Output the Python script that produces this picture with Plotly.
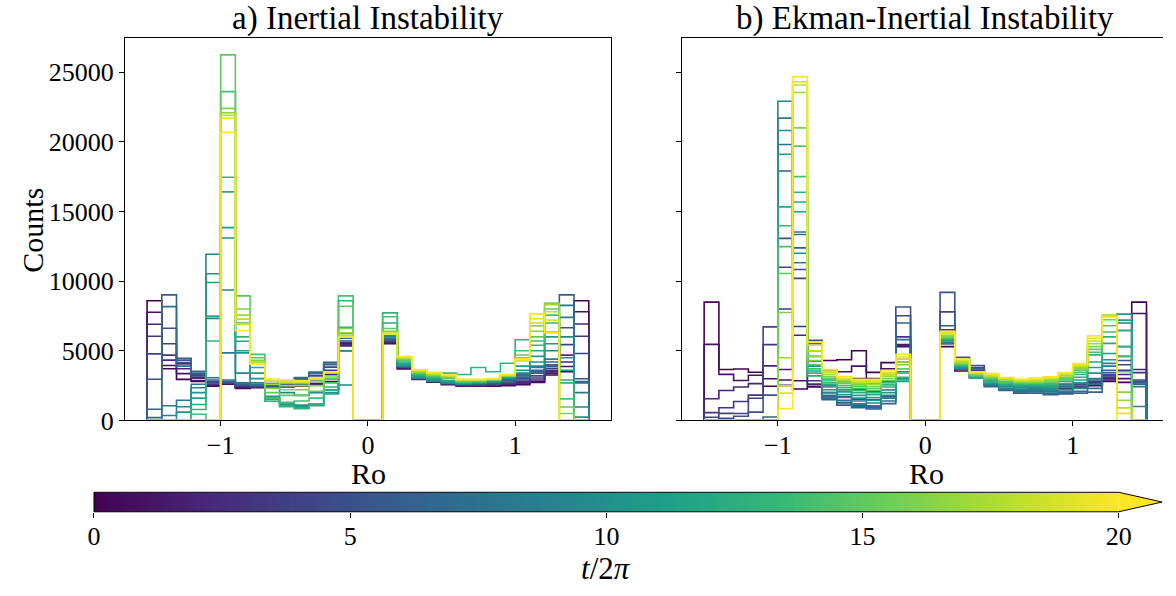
import numpy as np
import plotly.graph_objects as go
from plotly.colors import sample_colorscale

# ---------------- data ----------------
ro_edges = np.round(np.linspace(-1.5, 1.5, 31), 2)          # 30 bins of width 0.1
snapshot_times = list(range(0, 21))                          # t/2pi of each snapshot

# Panel a) Inertial Instability : counts[t][bin]
counts_inertial = [
 [8590,3710,2950,2800,2450,2600,2300,2350,2400,2400,2450,2550,2800,5500,0,0,5500,3700,2950,2750,2570,2450,2450,2450,2500,2570,2730,3260,3500,8590],
 [7770,3940,3360,2850,2500,2620,2350,2380,2420,2450,2500,2650,3000,5400,0,0,5550,3750,3000,2780,2600,2480,2480,2500,2550,2620,2800,3400,3870,7800],
 [6910,4330,3710,3010,2550,2650,2400,2400,2450,2500,2600,2800,3300,5350,0,0,5600,3780,3050,2800,2620,2500,2500,2520,2600,2700,2900,3500,4200,6920],
 [6040,4690,4060,3100,2600,2680,2450,2420,2480,2550,2700,3000,3600,5450,0,0,5650,3800,3050,2820,2650,2520,2520,2550,2650,2800,3050,3600,4690,6040],
 [4780,5500,4150,3200,2700,2700,2500,2450,2500,2600,2800,3200,3830,5600,0,0,5700,3850,3100,2850,2680,2550,2550,2600,2700,2900,3200,3740,5440,4810],
 [2960,6620,4330,3300,2800,2750,2550,2480,2550,2650,2900,3350,4000,5700,0,0,5750,3900,3100,2880,2700,2570,2580,2650,2750,3000,3400,3900,6650,2990],
 [800,9010,4460,3400,2900,2800,2600,2500,2600,2750,3000,3470,4170,5900,0,0,5800,3950,3150,2900,2720,2600,2620,2700,2850,3100,3500,4000,9010,2800],
 [200,8170,3900,3520,3060,2900,2650,2550,2650,2820,3080,3400,4050,6000,0,0,5850,3900,3100,2850,2700,2620,2650,2750,2950,3200,3600,4190,8260,2700],
 [0,1050,1450,2600,7330,4850,2700,2600,2500,2400,2600,2900,3500,5000,0,0,5900,3850,3000,2800,2650,2600,2650,2750,3000,3300,3800,4400,7400,2000],
 [0,350,980,2350,11930,9360,3400,2700,2310,2000,1800,2000,2180,2540,0,0,6000,3900,3050,2850,2700,2620,2680,2780,3020,3400,3900,5000,6000,970],
 [0,0,600,2000,10530,13100,4850,3000,1730,1260,1100,1200,2000,4990,0,0,6100,3950,3100,2900,2750,2650,2700,2800,3050,3600,4200,5510,4500,240],
 [0,0,0,1600,9900,13840,5000,3400,1600,1150,980,1100,1900,6250,0,0,6300,4000,3150,2950,2800,2680,2720,2830,3080,3900,4600,6000,3600,0],
 [0,0,0,1140,7490,16410,5690,3800,1500,1050,900,1050,2180,6680,0,0,7000,4100,3200,3000,2850,2700,2750,2860,3100,4300,5000,6320,2900,0],
 [0,0,0,790,5700,17460,6000,4300,1380,980,840,1200,2400,8590,0,0,7720,4200,3300,3100,3400,3300,3800,3500,4110,5790,5400,7000,2700,0],
 [0,0,0,440,0,23600,7000,4740,1600,1300,1400,1600,2700,8940,0,0,7440,4300,3350,3150,3000,2750,2800,2900,3150,5000,5700,7560,1550,0],
 [0,0,0,0,0,26240,8940,4500,2000,1800,1800,2100,3000,8200,0,0,6600,4350,3400,3200,3050,2800,2830,2920,3180,4700,6000,8000,970,0],
 [0,0,0,0,0,22400,8000,4300,2310,2200,2200,2500,3200,6600,0,0,6400,4400,3450,3250,3100,2850,2860,2940,3200,4500,6400,8420,500,0],
 [0,0,0,0,0,22080,7560,4200,2600,2500,2500,2800,3400,6300,0,0,6300,4450,3500,3300,3150,2880,2890,2960,3230,4400,6790,8300,0,0],
 [0,0,0,0,0,21900,7270,4100,2800,2700,2700,2950,3470,6100,0,0,6250,4500,3550,3350,3200,2900,2920,2980,3260,4300,7000,7800,0,0],
 [0,0,0,0,0,21690,6910,4050,2900,2800,2800,3000,3500,6000,0,0,6200,4550,3600,3400,3250,2930,2940,2990,3280,4300,7300,7200,0,0],
 [0,0,0,0,0,20680,6440,4040,2980,2900,2850,3050,3470,5970,0,0,6250,4580,3640,3450,3300,2960,2960,3000,3300,4400,7650,6300,0,0],
]

# Panel b) Ekman-Inertial Instability : counts[t][bin]
counts_ekman = [
 [8490,3660,3690,3460,2450,2520,2260,2400,4300,4360,5000,3450,4150,5440,0,0,5300,3550,3100,2700,2500,2400,2350,2350,2300,2400,2500,2800,2730,8490],
 [5460,3310,2870,3240,2990,2900,2850,2450,3600,3500,3900,3000,3700,5300,0,0,5500,3700,3200,2750,2500,2400,2350,2350,2350,2450,2550,2900,3000,7680],
 [1560,2150,2400,2640,3920,3660,6110,2610,3000,2800,3000,2600,3300,5410,0,0,6000,3900,3400,2800,2550,2450,2400,2400,2400,2500,2600,3000,3300,3660],
 [560,910,1360,1820,5440,8000,6740,2850,2500,2200,2200,2100,2800,6000,0,0,6500,4100,3600,2850,2600,2450,2400,2450,2450,2550,2700,3100,3600,3430],
 [230,510,500,1590,6720,11000,10200,4000,2000,1700,1500,1500,2200,7510,0,0,7790,4300,3800,2900,2600,2500,2450,2450,2500,2600,2800,3200,4000,2900],
 [0,160,300,600,1820,13070,10830,5760,1700,1300,1100,1000,1700,8140,0,0,9190,4530,3940,3000,2650,2500,2450,2500,2550,2700,2900,3300,4300,2800],
 [0,0,0,0,250,17900,12390,5500,1490,1100,910,820,1210,7000,0,0,6800,4200,3700,2430,2150,1960,1950,1840,1910,1960,2030,3430,4600,2700],
 [0,0,0,0,0,19810,13350,5000,1600,1250,1000,900,1400,5800,0,0,6000,3900,3400,2500,2200,2050,2050,1950,2000,2100,2300,3600,5300,2610],
 [0,0,0,0,0,21700,13530,4600,1800,1450,1200,1050,1600,4200,0,0,5530,3700,3200,2550,2250,2150,2150,2050,2100,2300,2600,3900,6460,2430],
 [0,0,0,0,0,22910,11320,4250,2000,1650,1400,1250,1800,3500,0,0,5600,3750,3100,2600,2300,2250,2250,2150,2200,2500,3000,4100,7000,1000],
 [0,0,0,0,0,20810,12000,3900,2200,1850,1600,1450,2000,3000,0,0,5700,3800,3050,2650,2400,2350,2350,2250,2350,2700,3400,4360,7630,0],
 [0,0,0,0,0,19110,14980,3550,2400,2050,1800,1650,2200,2800,0,0,5750,3850,3050,2700,2500,2450,2450,2350,2500,2900,3800,4800,7200,0],
 [0,0,0,0,0,15330,15680,3200,2550,2200,2000,1850,2400,2900,0,0,5800,3900,3100,2750,2600,2500,2500,2450,2650,3100,4200,5530,6460,0],
 [0,0,0,0,0,13980,16380,3400,2700,2350,2150,2000,2550,3100,0,0,5850,3950,3150,2800,2650,2600,2600,2550,2800,3300,4710,6000,5300,0],
 [0,0,0,0,0,12480,17500,3700,2850,2500,2300,2150,2700,3400,0,0,5900,4000,3200,2900,2700,2650,2650,2650,2900,3450,4900,6350,4600,0],
 [0,0,0,0,0,10550,19690,4000,3000,2650,2450,2300,2850,3700,0,0,5950,4050,3250,3000,2800,2700,2700,2750,3000,3600,5100,6800,3500,0],
 [0,0,0,0,0,7750,21000,4300,3150,2750,2550,2450,3000,4000,0,0,6000,4100,3300,3100,2900,2750,2750,2850,3100,3700,5300,7230,2030,0],
 [0,0,0,0,0,4500,23540,4600,3300,2850,2650,2600,3150,4200,0,0,6100,4150,3350,3150,2950,2800,2800,2950,3200,3800,5500,7560,1450,0],
 [0,0,0,0,0,2500,24080,5000,3450,2950,2750,2750,3300,4400,0,0,6200,4200,3400,3200,3000,2850,2850,3000,3300,3900,5700,7500,900,0],
 [0,0,0,0,0,1960,24300,5400,3550,3050,2850,2850,3450,4550,0,0,6300,4300,3450,3300,3050,2900,2950,3080,3380,4000,5900,7450,510,0],
 [0,0,0,0,0,850,24660,5640,3660,3150,2960,2960,3600,4740,0,0,6390,4400,3500,3360,3080,2960,3050,3130,3430,4080,6070,7400,0,0],
]

x_ticks = [-1, 0, 1]
y_ticks = [0, 5000, 10000, 15000, 20000, 25000]
cbar_ticks = [0, 5, 10, 15, 20]
t_max = 20

titles = ["a) Inertial Instability", "b) Ekman-Inertial Instability"]

# ---------------- figure ----------------
W, H = 1176, 596
FONT = "Liberation Serif"

def px_x(p):
    return p / W

def px_y(p):
    return (H - p) / H

fig = go.Figure()

def add_steps(counts, xa, ya):
    for t, row in zip(snapshot_times, counts):
        color = sample_colorscale("Viridis", [t / t_max])[0]
        xs = [ro_edges[0]] + list(ro_edges[:-1]) + [ro_edges[-1]]
        ys = [0] + list(row) + [0]
        fig.add_trace(go.Scatter(x=xs, y=ys, mode="lines", line_shape="hv",
                                 line=dict(color=color, width=1.6),
                                 xaxis=xa, yaxis=ya, showlegend=False,
                                 hoverinfo="skip"))

add_steps(counts_inertial, "x", "y")
add_steps(counts_ekman, "x2", "y2")

# colour bar as a heatmap strip
cb_x = np.linspace(0, t_max, 401)
cb_mid = 0.5 * (cb_x[:-1] + cb_x[1:])
fig.add_trace(go.Heatmap(x=cb_x, y=[0, 1], z=[cb_mid], colorscale="Viridis",
                         zmin=0, zmax=t_max, showscale=False,
                         xaxis="x3", yaxis="y3", hoverinfo="skip"))

tickfont = dict(family=FONT, size=26, color="black")
ax_common = dict(showline=True, linecolor="black", linewidth=1, ticks="outside",
                 ticklen=5, tickwidth=1, tickcolor="black", showgrid=False,
                 zeroline=False, tickfont=tickfont)

y0, y1 = px_y(431.3), px_y(39.3)
fig.update_layout(
    width=W, height=H, margin=dict(l=0, r=0, t=0, b=0),
    paper_bgcolor="white", plot_bgcolor="white",
    xaxis=dict(domain=[px_x(120), px_x(614.3)], range=[-1.65, 1.65],
               tickvals=x_ticks, mirror=True, anchor="y", ticklabelstandoff=-4,
               **ax_common),
    yaxis=dict(domain=[y0, y1], range=[0, 27430], tickvals=y_ticks,
               tickformat="d", mirror=True, anchor="x", **ax_common),
    xaxis2=dict(domain=[px_x(686.7), 1.0], range=[-1.65, 1.612],
                tickvals=x_ticks, mirror=True, anchor="y2", ticklabelstandoff=-4,
                **ax_common),
    yaxis2=dict(domain=[y0, y1], range=[0, 27430], tickvals=y_ticks,
                showticklabels=False, mirror=False, anchor="x2", **ax_common),
    xaxis3=dict(domain=[px_x(88.5), px_x(1131)], range=[0, t_max],
                tickvals=cbar_ticks, anchor="y3", showline=False, ticks="outside",
                ticklen=5, tickwidth=1, tickcolor="black", showgrid=False,
                zeroline=False, tickfont=tickfont, ticklabelstandoff=-4),
    yaxis3=dict(domain=[px_y(525), px_y(505)], range=[0, 1], visible=False,
                anchor="x3"),
)

# colorbar extension triangle and outline
xl, xr, xt = px_x(88.5), px_x(1131), px_x(1175)
yt, ym, yb = px_y(505), px_y(515), px_y(525)
fig.add_shape(type="path", xref="paper", yref="paper",
              path=f"M {xr} {yt} L {xt} {ym} L {xr} {yb} Z",
              fillcolor="#fde725", line=dict(color="black", width=0))
fig.add_shape(type="path", xref="paper", yref="paper",
              path=f"M {xl} {yt} L {xr} {yt} L {xt} {ym} L {xr} {yb} L {xl} {yb} Z",
              line=dict(color="black", width=1))

title_font = dict(family=FONT, size=33, color="black")
label_font = dict(family=FONT, size=30, color="black")
ann = [
    dict(text=titles[0], x=px_x(367.3), y=px_y(40), yanchor="bottom", font=title_font),
    dict(text=titles[1], x=px_x(934), y=px_y(40), yanchor="bottom", font=title_font),
    dict(text="Ro", x=px_x(367.3), y=px_y(486), yanchor="middle", font=label_font),
    dict(text="Ro", x=px_x(935.8), y=px_y(486), yanchor="middle", font=label_font),
    dict(text="Counts", x=px_x(25), y=px_y(236), yanchor="middle", font=label_font,
         textangle=-90),
    dict(text="<i>t</i>/2<i>π</i>", x=px_x(609), y=px_y(583), yanchor="middle",
         font=dict(family=FONT, size=31, color="black")),
]
for a in ann:
    fig.add_annotation(xref="paper", yref="paper", showarrow=False,
                       xanchor="center", **a)

fig.write_html("out.html", config={"displayModeBar": False},
               post_script="document.body.style.margin='0';document.body.style.overflow='hidden';")
